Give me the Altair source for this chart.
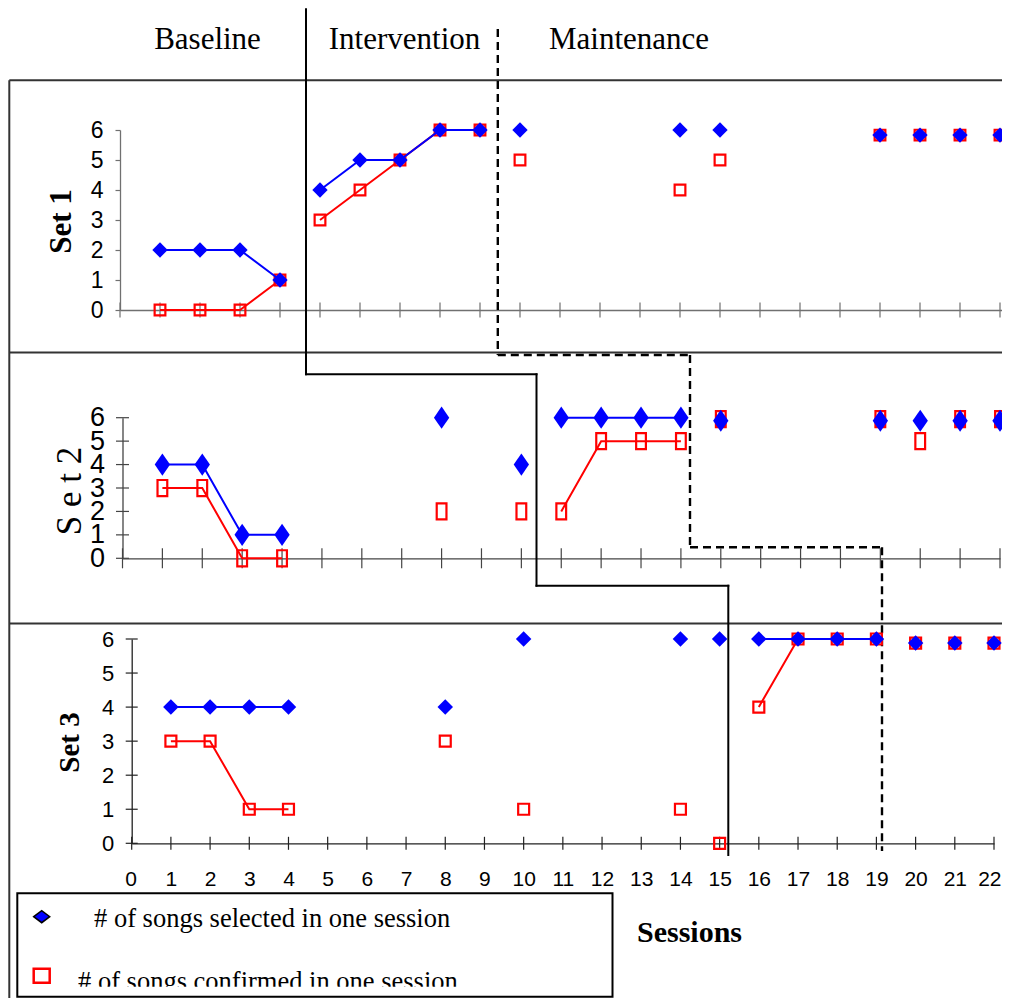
import altair as alt
import pandas as pd

# ---------------- data ----------------
set1_sessions = [1, 2, 3, 4, 5, 6, 7, 8, 9, 10, 14, 15, 19, 20, 21, 22]
set1_selected = [2, 2, 2, 1, 4, 5, 5, 6, 6, 6, 6, 6, 5.83, 5.83, 5.83, 5.83]
set1_confirmed = [0, 0, 0, 1, 3, 4, 5, 6, 6, 5, 4, 5, 5.83, 5.83, 5.83, 5.83]
set1_run = [1, 1, 1, 1, 2, 2, 2, 2, 2, 3, 4, 5, 6, 7, 8, 9]

set2_sessions = [1, 2, 3, 4, 8, 10, 11, 12, 13, 14, 15, 19, 20, 21, 22]
set2_selected = [4, 4, 1, 1, 6, 4, 6, 6, 6, 6, 5.87, 5.87, 5.87, 5.87, 5.87]
set2_confirmed = [3, 3, 0, 0, 2, 2, 2, 5, 5, 5, 5.94, 5.94, 5, 5.94, 5.94]
set2_run = [1, 1, 1, 1, 2, 3, 4, 4, 4, 4, 5, 6, 7, 8, 9]

set3_sessions = [1, 2, 3, 4, 8, 10, 14, 15, 16, 17, 18, 19, 20, 21, 22]
set3_selected = [4, 4, 4, 4, 4, 6, 6, 6, 6, 6, 6, 6, 5.88, 5.88, 5.88]
set3_confirmed = [3, 3, 1, 1, 3, 1, 1, 0, 4, 6, 6, 6, 5.88, 5.88, 5.88]
set3_run = [1, 1, 1, 1, 2, 3, 4, 5, 6, 6, 6, 6, 7, 8, 9]

session_ticks = list(range(0, 23))
value_ticks = list(range(0, 7))
phase_labels = ["Baseline", "Intervention", "Maintenance"]
set_labels = ["Set 1", "S e t 2", "Set 3"]
legend_labels = ["# of songs selected in one session",
                 "# of songs confirmed in one session"]
x_title = "Sessions"

# ---------------- layout helpers ----------------
W, H = 994, 990
M = 8  # page margin -> plot coords = page - 8
BLUE, RED = "#0000FF", "#FF0000"
SERIF, SANS = "Liberation Serif", "Liberation Sans"


def P(v):
    return v - M


def panel(sessions, selected, confirmed, run, x0, x22, y0, y6,
          ylab_size, ylab_pad, ytick_axis, xlabels, xtick_len, ytick_len,
          sq_shape, sq_size, dia_shape, dia_size, axis_color, x_end=22):
    df = pd.DataFrame({"session": sessions, "selected": selected,
                       "confirmed": confirmed, "run": run})
    step = (x22 - x0) / 22.0
    xr = [P(x0), P(x0 + step * x_end)]

    def xs():
        return alt.Scale(domain=[0, x_end], range=xr, nice=False, zero=False)

    def ys():
        return alt.Scale(domain=[0, 6], range=[P(y0), P(y6)], nice=False, zero=False)

    x_axis = alt.Axis(orient="bottom", offset=P(y0) - H, values=session_ticks,
                      ticks=False, tickSize=0, labels=xlabels, labelFont=SANS,
                      labelFontSize=21, labelColor="black", labelPadding=25,
                      labelBaseline="top", labelFlush=True, labelFlushOffset=7,
                      labelOverlap=False,
                      domainColor=axis_color, domainWidth=1.3, grid=False, title=None)
    if ytick_axis:
        y_axis = alt.Axis(orient="left", offset=-P(x0), values=value_ticks,
                          ticks=True, tickSize=5, tickColor=axis_color, tickWidth=1.2,
                          labelPadding=ylab_pad - 5, labelFont=SANS,
                          labelFontSize=ylab_size, labelColor="black",
                          labelOverlap=False, labelFlush=False,
                          domainColor=axis_color, domainWidth=1.3, grid=False, title=None)
    else:
        y_axis = alt.Axis(orient="left", offset=-P(x0), values=value_ticks,
                          ticks=False, tickSize=0, labelPadding=ylab_pad,
                          labelFont=SANS, labelFontSize=ylab_size, labelColor="black",
                          labelOverlap=False, labelFlush=False,
                          domainColor=axis_color, domainWidth=1.3, grid=False, title=None)

    axes_layer = alt.Chart(pd.DataFrame({"s": [0, 22], "v": [0, 6]})).mark_point(
        opacity=0).encode(x=alt.X("s:Q", scale=xs(), axis=x_axis),
                          y=alt.Y("v:Q", scale=ys(), axis=y_axis))

    layers = [axes_layer]
    xt = alt.Chart(pd.DataFrame({"s": session_ticks, "v": [0] * len(session_ticks)})).mark_tick(
        orient="vertical", size=xtick_len, thickness=1.2, color=axis_color, opacity=1).encode(
        x=alt.X("s:Q", scale=xs(), axis=None), y=alt.Y("v:Q", scale=ys(), axis=None))
    layers.append(xt)
    if not ytick_axis:
        yt = alt.Chart(pd.DataFrame({"s": [0] * len(value_ticks), "v": value_ticks})).mark_tick(
            orient="horizontal", size=ytick_len, thickness=1.2, color=axis_color, opacity=1).encode(
            x=alt.X("s:Q", scale=xs(), axis=None), y=alt.Y("v:Q", scale=ys(), axis=None))
        layers.append(yt)

    base = alt.Chart(df)
    red_line = base.mark_line(color=RED, strokeWidth=2).encode(
        x=alt.X("session:Q", scale=xs(), axis=None),
        y=alt.Y("confirmed:Q", scale=ys(), axis=None), detail="run:N")
    red_pts = base.mark_point(shape=sq_shape, filled=False, color=RED, strokeWidth=2.2,
                              size=sq_size, opacity=1).encode(
        x=alt.X("session:Q", scale=xs(), axis=None),
        y=alt.Y("confirmed:Q", scale=ys(), axis=None))
    blue_line = base.mark_line(color=BLUE, strokeWidth=2).encode(
        x=alt.X("session:Q", scale=xs(), axis=None),
        y=alt.Y("selected:Q", scale=ys(), axis=None), detail="run:N")
    blue_pts = base.mark_point(shape=dia_shape, filled=True, color=BLUE,
                               size=dia_size, opacity=1).encode(
        x=alt.X("session:Q", scale=xs(), axis=None),
        y=alt.Y("selected:Q", scale=ys(), axis=None))
    layers += [red_line, red_pts, blue_line, blue_pts]
    return layers


def rules(segs, **kw):
    df = pd.DataFrame([[P(a), P(b), P(c), P(d)] for a, b, c, d in segs],
                      columns=["xa", "ya", "xb", "yb"])
    return alt.Chart(df).mark_rule(**kw).encode(
        x=alt.X("xa:Q", scale=None, axis=None), x2="xb:Q",
        y=alt.Y("ya:Q", scale=None, axis=None), y2="yb:Q")


def texts(labels, xs, ys, **kw):
    df = pd.DataFrame({"label": labels, "px": [P(v) for v in xs], "py": [P(v) for v in ys]})
    return alt.Chart(df).mark_text(**kw).encode(
        x=alt.X("px:Q", scale=None, axis=None),
        y=alt.Y("py:Q", scale=None, axis=None), text="label:N")


def rect(x1, y1, x2, y2, **kw):
    df = pd.DataFrame({"xa": [P(x1)], "ya": [P(y1)], "xb": [P(x2)], "yb": [P(y2)]})
    return alt.Chart(df).mark_rect(**kw).encode(
        x=alt.X("xa:Q", scale=None, axis=None), x2="xb:Q",
        y=alt.Y("ya:Q", scale=None, axis=None), y2="yb:Q")


def symbol(x, y, **kw):
    df = pd.DataFrame({"px": [P(x)], "py": [P(y)]})
    return alt.Chart(df).mark_point(**kw).encode(
        x=alt.X("px:Q", scale=None, axis=None), y=alt.Y("py:Q", scale=None, axis=None))


# ---------------- frame / phase lines ----------------
frame = rules([(9.3, 80.3, 1010, 80.3), (9.3, 352.6, 1010, 352.6),
               (9.3, 623.5, 1010, 623.5), (9.3, 80.3, 9.3, 1010)],
              color="#333333", strokeWidth=2)
solid_phase = rules([(306, 9.3, 306, 374.3), (306, 374.3, 536.5, 374.3),
                     (536.5, 374.3, 536.5, 585.7), (536.5, 585.7, 728.3, 585.7),
                     (728.3, 585.7, 728.3, 855)],
                    color="black", strokeWidth=2, strokeCap="square")
dashed_phase = rules([(497.8, 29, 497.8, 355), (497.8, 355, 690, 355),
                      (690, 355, 690, 547.3), (690, 547.3, 882, 547.3),
                      (882, 547.3, 882, 851)],
                     color="black", strokeWidth=2.4, strokeDash=[8, 5])

# ---------------- panels ----------------
p1 = panel(set1_sessions, set1_selected, set1_confirmed, set1_run,
           120, 1000, 310, 130, 23, 17, True, False, 15, 10,
           "square", 115, "diamond", 235, "#707070", x_end=22.3)
p2 = panel(set2_sessions, set2_selected, set2_confirmed, set2_run,
           122.5, 1000, 558.3, 417.7, 27, 18, False, False, 20, 13,
           "M-0.65,-1.07H0.65V1.07H-0.65Z", 225,
           "M-1,0L0,-1.45L1,0L0,1.45Z", 235, "#444444")
p3 = panel(set3_sessions, set3_selected, set3_confirmed, set3_run,
           131.7, 994, 843.3, 639, 22, 18, False, True, 13, 12,
           "square", 120, "diamond", 240, "#222222")

# ---------------- texts ----------------
phase_text = texts(phase_labels, [207.5, 404.5, 629], [49.3, 49.3, 49.3],
                   font=SERIF, fontSize=31, color="black", align="center",
                   baseline="alphabetic")
set1_text = texts([set_labels[0]], [61.5], [221.5], font=SERIF, fontSize=31,
                  fontWeight="bold", angle=270, align="center", baseline="middle",
                  color="black")
set2_text = texts([set_labels[1]], [70], [491], font=SERIF, fontSize=35,
                  angle=270, align="center", baseline="middle", color="black")
set3_text = texts([set_labels[2]], [70], [742.5], font=SERIF, fontSize=29,
                  fontWeight="bold", angle=270, align="center", baseline="middle",
                  color="black")
sessions_text = texts([x_title], [637], [941.7], font=SERIF, fontSize=30,
                      fontWeight="bold", align="left", baseline="alphabetic",
                      color="black")

# ---------------- legend ----------------
leg_text1 = texts([legend_labels[0]], [94], [927], font=SERIF, fontSize=26.5,
                  align="left", baseline="alphabetic", color="black")
leg_text2 = texts([legend_labels[1]], [78], [989.5], font=SERIF, fontSize=26.5,
                  align="left", baseline="alphabetic", color="black")
leg_cover = rect(19, 986.8, 611, 996, color="white")
leg_box = rect(17.3, 893.3, 612.5, 996.8, fillOpacity=0, stroke="black", strokeWidth=2)
leg_dia = symbol(41.7, 916.7, shape="M-1,0L0,-0.75L1,0L0,0.75Z", size=256,
                 filled=True, fill=BLUE, stroke="black", strokeWidth=1.5, opacity=1)
leg_sq = symbol(41.7, 975.7, shape="M-1,-0.88H1V0.88H-1Z", size=256,
                filled=False, color=RED, strokeWidth=2.5, opacity=1)

chart = alt.layer(
    frame, solid_phase, dashed_phase,
    *p1, *p2, *p3,
    phase_text, set1_text, set2_text, set3_text, sessions_text,
    leg_text1, leg_text2, leg_cover, leg_box, leg_dia, leg_sq,
).resolve_scale(x="independent", y="independent").resolve_axis(
    x="independent", y="independent"
).properties(
    width=W, height=H, padding=0, autosize="none"
).configure_view(stroke=None)

chart.save("out.html", embed_options={"renderer": "svg", "actions": False})
